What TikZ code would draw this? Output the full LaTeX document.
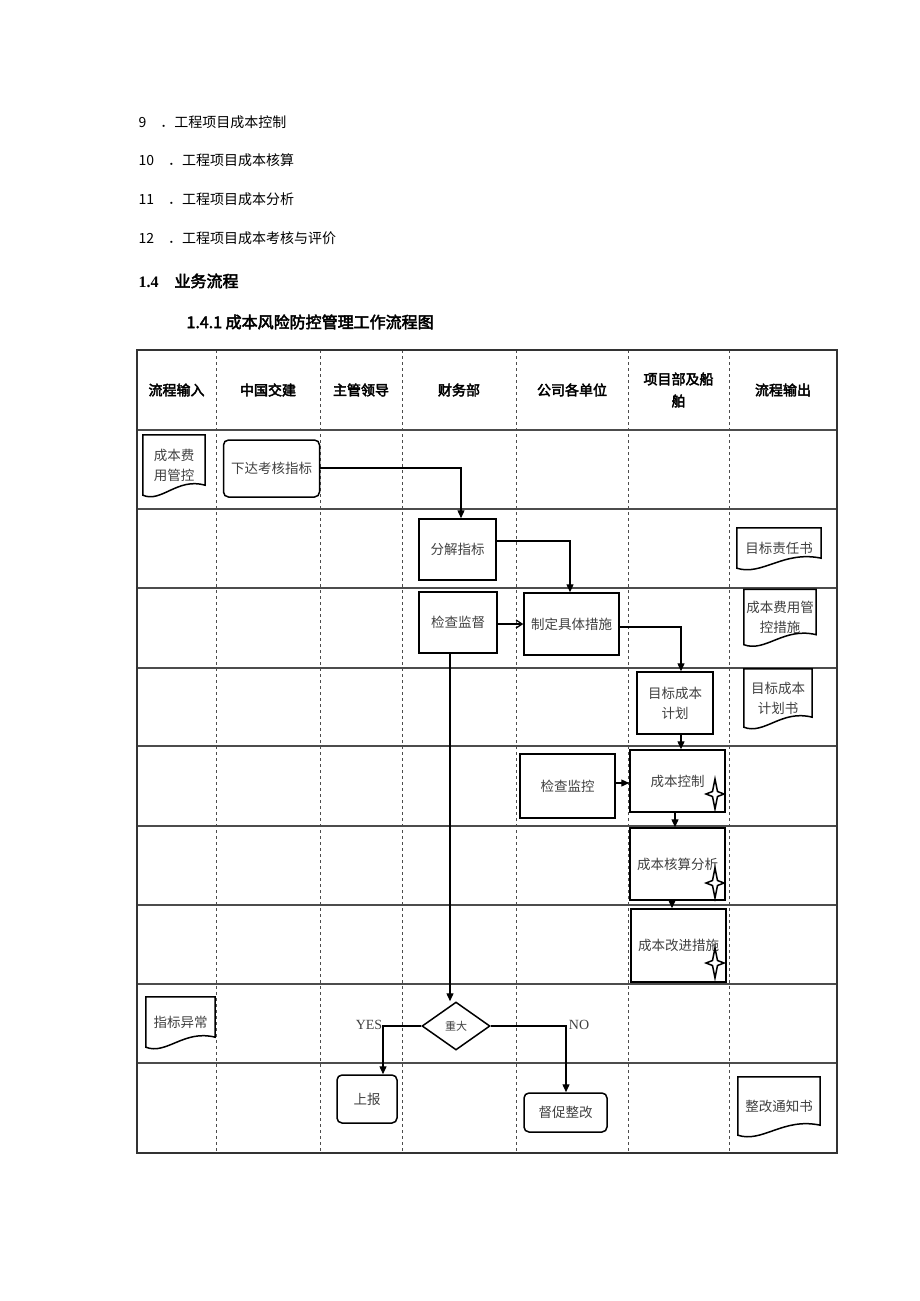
\documentclass[tikz,border=0pt]{standalone}
\usepackage{fontspec}
\setmainfont{Liberation Serif}
\newfontfamily\cjk[AutoFakeBold=3]{Noto Sans CJK SC}
\usetikzlibrary{shapes.geometric,arrows.meta,calc}
\tikzset{
 box/.style={draw,line width=1.5pt,inner sep=1pt,align=center,font=\cjk\fontsize{13.5}{20}\selectfont,text=black!75},
 rbox/.style={box,rounded corners=5pt},
 doc/.style={inner sep=1pt,align=center,font=\cjk\fontsize{13.5}{20}\selectfont,text=black!75},
 hdr/.style={font=\cjk\bfseries\fontsize{14}{22}\selectfont,align=center},
 flow/.style={line width=1.3pt,-{Triangle[length=8pt,width=7pt]}},
 lst/.style={anchor=west,font=\cjk\fontsize{14}{16}\selectfont},
 sep/.style={dashed,line width=0.8pt,black!70},
 rowl/.style={line width=1.6pt,black!70},
}
\newcommand{\docdraw}[1]{%
 \draw[line width=1.5pt] (#1.north west) -- (#1.north east) -- ($(#1.south east)+(0,-10)$)
  .. controls ($(#1.south east)!0.45!(#1.south west)+(0,-18)$) and ($(#1.south east)!0.7!(#1.south west)+(0,8)$) .. (#1.south west) -- cycle;}
\newcommand{\spark}[2]{%
 \draw[line width=1.5pt,fill=white] (#1,#2-15) -- (#1+2.5,#2-2.5) -- (#1+9,#2) -- (#1+2.5,#2+2.5) -- (#1,#2+15) -- (#1-2.5,#2+2.5) -- (#1-9,#2) -- (#1-2.5,#2-2.5) -- cycle;}
\begin{document}
\begin{tikzpicture}[x=1pt,y=-1pt]
\useasboundingbox (0,0) rectangle (920,1301);
\node[lst] (l9) at (135,122) {9\quad ．工程项目成本控制};
\node[lst] (l10) at (135,160) {10\quad ．工程项目成本核算};
\node[lst] (l11) at (135,199) {11\quad ．工程项目成本分析};
\node[lst] (l12) at (135,238) {12\quad ．工程项目成本考核与评价};
\node[anchor=west,font=\bfseries\fontsize{16}{18}\selectfont] (s14) at (135,281) {1.4\quad{\cjk 业务流程}};
\node[anchor=west,font=\cjk\bfseries\fontsize{16}{18}\selectfont] (s141) at (183,322) {1.4.1\ 成本风险防控管理工作流程图};
\foreach \x in {216,320,402,516,628,729} \draw[sep] (\x,350) -- (\x,1153);
\foreach \y in {430,509,588,668,746,826,905,984,1063} \draw[rowl] (137,\y) -- (837,\y);
\draw[line width=1.8pt,black!80] (137,350) rectangle (837,1153);
\node[hdr] (h1) at (176.5,390) {流程输入};
\node[hdr] (h2) at (268,390) {中国交建};
\node[hdr] (h3) at (361,390) {主管领导};
\node[hdr] (h4) at (459,390) {财务部};
\node[hdr] (h5) at (572,390) {公司各单位};
\node[hdr] (h6) at (678.5,390) {项目部及船\\舶};
\node[hdr] (h7) at (783,390) {流程输出};
\node[doc,minimum width=62pt,minimum height=60pt,text width=55pt] (d1) at (174,465) {成本费\\用管控};
\node[doc,minimum width=84pt,minimum height=40pt] (d2) at (779,548) {目标责任书};
\node[doc,minimum width=72pt,minimum height=55pt,text width=70pt] (d3) at (780,617) {成本费用管\\控措施};
\node[doc,minimum width=68pt,minimum height=58pt,text width=62pt] (d4) at (778,698) {目标成本\\计划书};
\node[doc,minimum width=69pt,minimum height=50pt] (d5) at (180.5,1022) {指标异常};
\node[doc,minimum width=82pt,minimum height=58pt] (d6) at (779,1106) {整改通知书};
\foreach \d in {d1,d2,d3,d4,d5,d6} \docdraw{\d};
\node[rbox,minimum width=96pt,minimum height=57pt] (a1) at (271.5,468.5) {下达考核指标};
\node[box,minimum width=77pt,minimum height=61pt] (b1) at (457.5,549.5) {分解指标};
\node[box,minimum width=78pt,minimum height=61pt] (b2) at (458,622.5) {检查监督};
\node[box,minimum width=95pt,minimum height=62pt] (b3) at (571.5,624) {制定具体措施};
\node[box,minimum width=76pt,minimum height=62pt,text width=70pt] (b4) at (675,703) {目标成本\\计划};
\node[box,minimum width=95pt,minimum height=64pt] (b5) at (567.5,786) {检查监控};
\node[box,minimum width=95pt,minimum height=62pt] (b6) at (677.5,781) {成本控制};
\node[box,minimum width=95pt,minimum height=72pt] (b7) at (677.5,864) {成本核算分析};
\node[box,minimum width=95pt,minimum height=73pt] (b8) at (678.5,945.5) {成本改进措施};
\node[draw,diamond,line width=1.5pt,minimum width=68pt,minimum height=48pt,inner sep=0pt,font=\cjk\fontsize{11}{12}\selectfont,text=black!75] (dm) at (456,1026) {重大};
\node[rbox,minimum width=60pt,minimum height=48pt] (c1) at (367,1099) {上报};
\node[rbox,minimum width=83pt,minimum height=39pt] (c2) at (565.5,1112.5) {督促整改};
\spark{715}{794}
\spark{715}{883}
\spark{715}{963}
\node[font=\fontsize{14}{15}\selectfont,text=black!75] (yes) at (369,1025) {YES};
\node[font=\fontsize{14}{15}\selectfont,text=black!75] (no) at (579,1025) {NO};
\draw[flow] (a1.east |- 0,468) -| (b1.north -| 461,0);
\draw[flow] (b1.east |- 0,541) -| (b3.north -| 570,0);
\draw[line width=1.3pt,-{Straight Barb[length=6pt,width=8pt]}] (b2.east |- 0,624) -- (b3.west |- 0,624);
\draw[flow] (b3.east |- 0,627) -| (b4.north -| 681,0);
\draw[flow] (b2.south -| 450,0) -- (dm.north -| 450,0);
\draw[flow] (b4.south -| 681,0) -- (b6.north -| 681,0);
\draw[flow] (b5.east |- 0,783) -- (b6.west |- 0,783);
\draw[flow] (b6.south -| 675,0) -- (b7.north -| 675,0);
\draw[flow] (b7.south -| 672,0) -- (b8.north -| 672,0);
\draw[flow] (dm.west) -| (c1.north -| 383,0);
\draw[flow] (dm.east) -| (c2.north -| 566,0);
\end{tikzpicture}
\end{document}
